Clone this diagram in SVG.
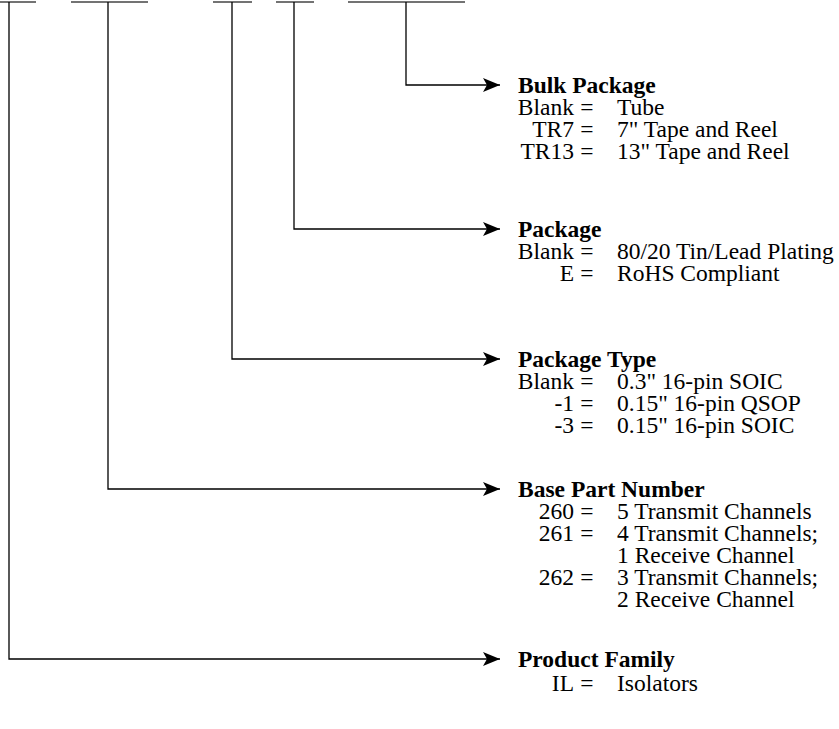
<svg xmlns="http://www.w3.org/2000/svg" width="839" height="729" viewBox="0 0 839 729">
<defs>
<style>
.ln{fill:none;stroke:#000;stroke-width:1.3}
.tb{fill:none;stroke:#444;stroke-width:1.3}
text{font-family:"Liberation Serif","Times New Roman",serif;font-size:23.5px;fill:#000}
.t{font-weight:bold}
.r{text-anchor:end}
.m{text-anchor:middle}
.s{text-anchor:start}
</style>
<marker id="ah" markerWidth="18" markerHeight="14" viewBox="0 0 18 14" refX="17" refY="7" orient="auto" markerUnits="userSpaceOnUse">
<path d="M0,0 L17,7 L0,14 L4,7 Z" fill="#000"/>
</marker>
</defs>
<rect width="839" height="729" fill="#fff"/>
<g id="part-bars">
<line class="tb" x1="0" y1="2" x2="36" y2="2"/>
<line class="tb" x1="71" y1="2" x2="148" y2="2"/>
<line class="tb" x1="213" y1="2" x2="252" y2="2"/>
<line class="tb" x1="276" y1="2" x2="314" y2="2"/>
<line class="tb" x1="348" y1="2" x2="465" y2="2"/>
</g>
<g id="connectors">
<polyline class="ln" points="406,2 406,85 500,85" marker-end="url(#ah)"/>
<polyline class="ln" points="294,2 294,229 500,229" marker-end="url(#ah)"/>
<polyline class="ln" points="232,2 232,359 500,359" marker-end="url(#ah)"/>
<polyline class="ln" points="108,2 108,489 500,489" marker-end="url(#ah)"/>
<polyline class="ln" points="9,2 9,659 500,659" marker-end="url(#ah)"/>
</g>
<g id="bulk-package">
<text><tspan class="t" x="518" y="93">Bulk Package</tspan><tspan class="r" x="574" y="115">Blank</tspan><tspan class="m" x="587" y="115">=</tspan><tspan class="s" x="617" y="115">Tube</tspan><tspan class="r" x="574" y="137">TR7</tspan><tspan class="m" x="587" y="137">=</tspan><tspan class="s" x="617" y="137">7" Tape and Reel</tspan><tspan class="r" x="574" y="159">TR13</tspan><tspan class="m" x="587" y="159">=</tspan><tspan class="s" x="617" y="159">13" Tape and Reel</tspan></text>
</g>
<g id="package">
<text><tspan class="t" x="518" y="237">Package</tspan><tspan class="r" x="574" y="259">Blank</tspan><tspan class="m" x="587" y="259">=</tspan><tspan class="s" x="617" y="259">80/20 Tin/Lead Plating</tspan><tspan class="r" x="574" y="281">E</tspan><tspan class="m" x="587" y="281">=</tspan><tspan class="s" x="617" y="281">RoHS Compliant</tspan></text>
</g>
<g id="package-type">
<text><tspan class="t" x="518" y="367">Package Type</tspan><tspan class="r" x="574" y="389">Blank</tspan><tspan class="m" x="587" y="389">=</tspan><tspan class="s" x="617" y="389">0.3" 16-pin SOIC</tspan><tspan class="r" x="574" y="411">-1</tspan><tspan class="m" x="587" y="411">=</tspan><tspan class="s" x="617" y="411">0.15" 16-pin QSOP</tspan><tspan class="r" x="574" y="433">-3</tspan><tspan class="m" x="587" y="433">=</tspan><tspan class="s" x="617" y="433">0.15" 16-pin SOIC</tspan></text>
</g>
<g id="base-part-number">
<text><tspan class="t" x="518" y="497">Base Part Number</tspan><tspan class="r" x="574" y="519">260</tspan><tspan class="m" x="587" y="519">=</tspan><tspan class="s" x="617" y="519">5 Transmit Channels</tspan><tspan class="r" x="574" y="541">261</tspan><tspan class="m" x="587" y="541">=</tspan><tspan class="s" x="617" y="541">4 Transmit Channels;</tspan><tspan class="s" x="617" y="563">1 Receive Channel</tspan><tspan class="r" x="574" y="585">262</tspan><tspan class="m" x="587" y="585">=</tspan><tspan class="s" x="617" y="585">3 Transmit Channels;</tspan><tspan class="s" x="617" y="607">2 Receive Channel</tspan></text>
</g>
<g id="product-family">
<text><tspan class="t" x="518" y="667">Product Family</tspan><tspan class="r" x="574" y="691">IL</tspan><tspan class="m" x="587" y="691">=</tspan><tspan class="s" x="617" y="691">Isolators</tspan></text>
</g>
</svg>
